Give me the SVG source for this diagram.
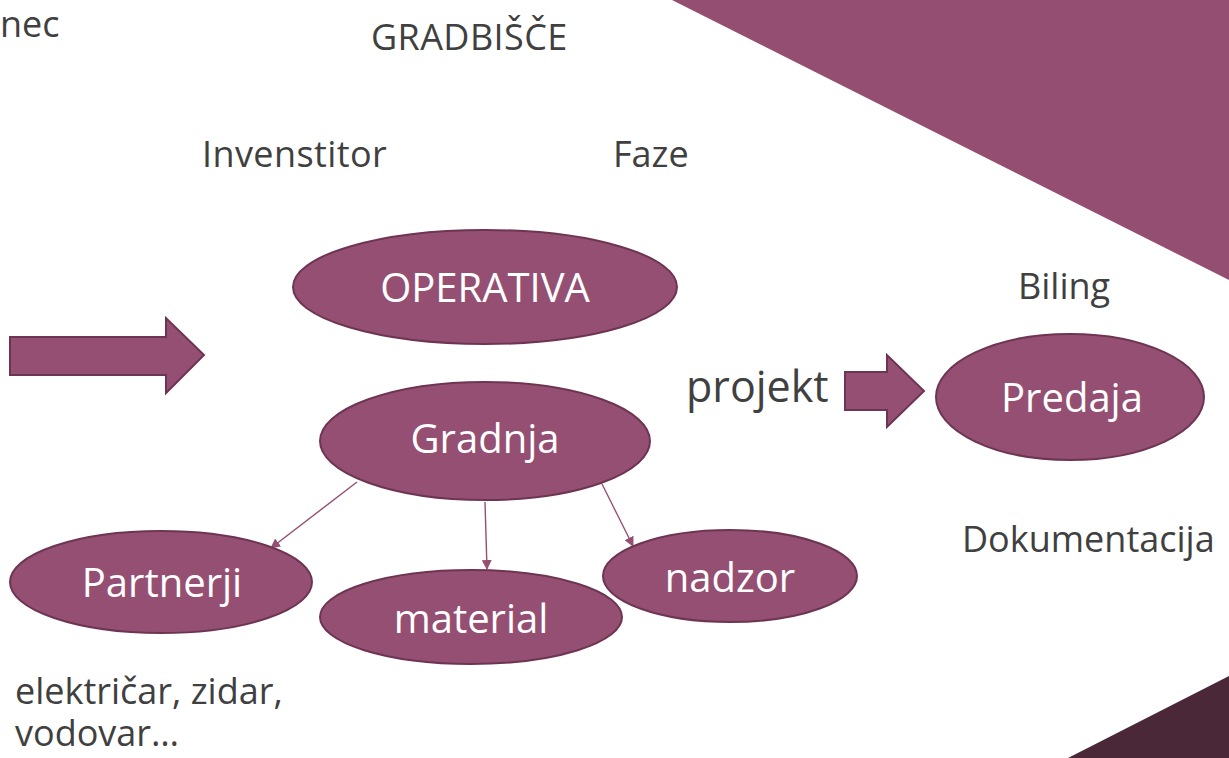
<svg xmlns="http://www.w3.org/2000/svg" width="1229" height="758" viewBox="0 0 1229 758">
<style>
.t{font-family:"Open Sans","Liberation Sans",sans-serif;fill:#404040;font-size:36px}
.w{font-family:"Open Sans","Liberation Sans",sans-serif;fill:#ffffff;font-size:40px;text-anchor:middle}
.n{fill:#954f72;stroke:#6e3553;stroke-width:2}
.c{stroke:#954f72;stroke-width:1.4;fill:none;marker-end:url(#ah)}
</style>
<defs>
<marker id="ah" markerWidth="10" markerHeight="10" refX="9" refY="5" orient="auto" markerUnits="userSpaceOnUse">
<path d="M0,0 L10,5 L0,10 z" fill="#954f72"/>
</marker>
</defs>
<rect width="1229" height="758" fill="#ffffff"/>
<polygon points="672,0 1229,0 1229,280" fill="#944e71"/>
<polygon points="1229,676 1229,758 1068,758" fill="#4a2838"/>
<text class="t" x="0" y="37">nec</text>
<text class="t" x="371" y="50" style="letter-spacing:0.4px">GRADBIŠČE</text>
<text class="t" x="202" y="167" style="letter-spacing:0.4px">Invenstitor</text>
<text class="t" x="613" y="167">Faze</text>
<text class="t" x="1018" y="299">Biling</text>
<text class="t" x="686" y="402" style="font-size:43px">projekt</text>
<text class="t" x="962" y="552">Dokumentacija</text>
<text class="t" x="15" y="704">električar, zidar,</text>
<text class="t" x="15" y="746">vodovar…</text>
<g id="arrow-left"><polygon class="n" points="10,337 166,337 166,318 204,355 166,393 166,375 10,375"/></g>
<g id="arrow-right"><polygon class="n" points="845,372 887,372 887,355 924,391 887,427 887,410 845,410"/></g>
<g id="connectors">
<line class="c" x1="357" y1="482" x2="271" y2="548"/>
<line class="c" x1="485" y1="502" x2="487" y2="569"/>
<line class="c" x1="602" y1="484" x2="633" y2="546"/>
</g>
<g id="operativa"><ellipse class="n" cx="485" cy="287" rx="192" ry="57"/><text class="w" x="485" y="302">OPERATIVA</text></g>
<g id="gradnja"><ellipse class="n" cx="485" cy="441" rx="165" ry="59"/><text class="w" x="485" y="453">Gradnja</text></g>
<g id="partnerji"><ellipse class="n" cx="161" cy="582" rx="151" ry="51"/><text class="w" x="162" y="597">Partnerji</text></g>
<g id="material"><ellipse class="n" cx="471" cy="617" rx="151" ry="47"/><text class="w" x="471" y="633">material</text></g>
<g id="nadzor"><ellipse class="n" cx="730" cy="576" rx="127" ry="46"/><text class="w" x="730" y="592">nadzor</text></g>
<g id="predaja"><ellipse class="n" cx="1070" cy="397" rx="134" ry="63"/><text class="w" x="1072" y="412">Predaja</text></g>
</svg>
